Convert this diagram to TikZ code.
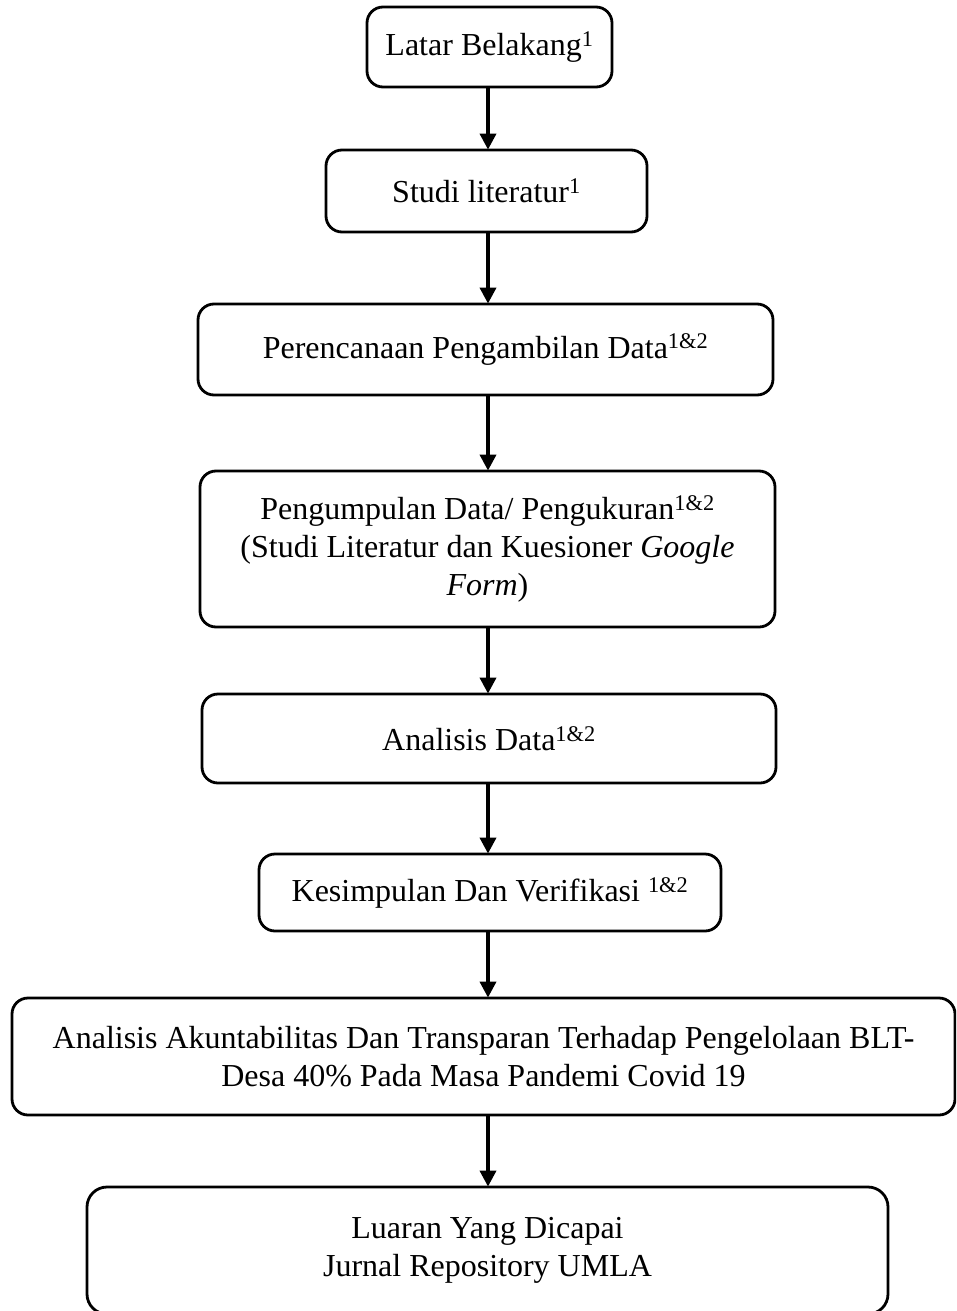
\documentclass[tikz,border=0pt]{standalone}
\usepackage{fontspec}
\setmainfont{Liberation Serif}
\usetikzlibrary{arrows.meta}
\begin{document}
\begin{tikzpicture}[x=1pt,y=-1pt,
  box/.style={draw=black, line width=2.8pt, rounded corners=16pt, align=center, inner sep=0pt,
    font=\fontsize{32}{38}\selectfont},
  flow/.style={line width=3.6pt, -{Triangle[width=16pt,length=16pt]}, shorten >=-1pt}]
\clip (0,0) rectangle (956,1311);
\fill[white] (0,0) rectangle (956,1311);
\node[box, minimum width=245pt, minimum height=80pt] (b1) at (489.5,47) {Latar Belakang\textsuperscript{1}};
\node[box, minimum width=321pt, minimum height=82pt] (b2) at (486.5,191) {Studi literatur\textsuperscript{1}};
\node[box, minimum width=575pt, minimum height=91pt] (b3) at (485.5,349.5) {Perencanaan Pengambilan Data\textsuperscript{1\&2}};
\node[box, minimum width=575pt, minimum height=156pt] (b4) at (487.5,549) {Pengumpulan Data/ Pengukuran\textsuperscript{1\&2}\\(Studi Literatur dan Kuesioner \textit{Google}\\\textit{Form})};
\node[box, minimum width=574pt, minimum height=89pt] (b5) at (489,738.5) {Analisis Data\textsuperscript{1\&2}};
\node[box, minimum width=462pt, minimum height=77pt] (b6) at (490,892.5) {Kesimpulan Dan Verifikasi \textsuperscript{1\&2}};
\node[box, minimum width=943pt, minimum height=117pt] (b7) at (483.5,1056.5) {Analisis Akuntabilitas Dan Transparan Terhadap Pengelolaan BLT-\\Desa 40\% Pada Masa Pandemi Covid 19};
\node[box, minimum width=801pt, minimum height=127pt, rounded corners=20pt] (b8) at (487.5,1250.5) {Luaran Yang Dicapai\\Jurnal Repository UMLA};
\coordinate (ax) at (488,0);
\foreach \a/\b in {b1/b2,b2/b3,b3/b4,b4/b5,b5/b6,b6/b7,b7/b8}{
  \draw[flow] (ax |- \a.south) -- (ax |- \b.north);
}
\end{tikzpicture}
\end{document}
